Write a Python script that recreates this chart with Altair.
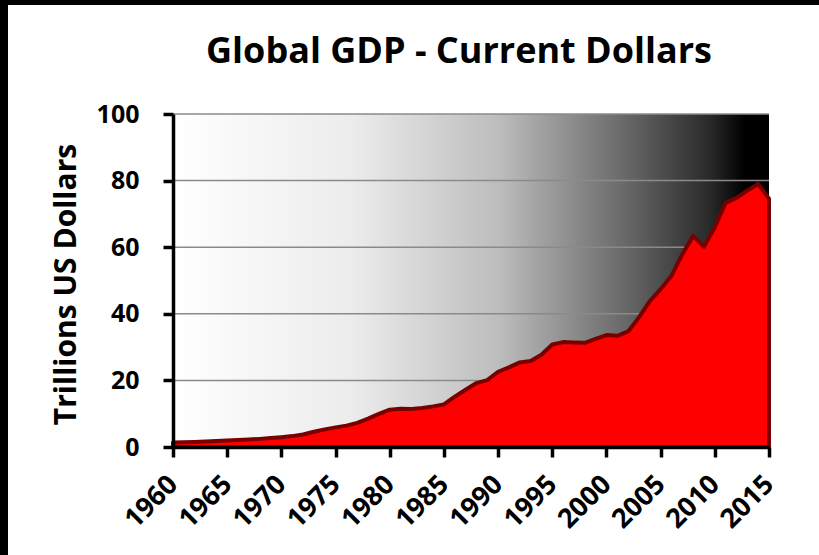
import altair as alt
import pandas as pd

years = list(range(1960, 2016))
gdp = [1.37, 1.42, 1.52, 1.64, 1.80, 1.96, 2.13, 2.26, 2.44, 2.69,
       2.96, 3.27, 3.77, 4.59, 5.30, 5.90, 6.42, 7.26, 8.54, 9.93,
       11.2, 11.5, 11.4, 11.7, 12.2, 12.8, 15.1, 17.2, 19.2, 20.1,
       22.6, 23.9, 25.4, 25.8, 27.7, 30.8, 31.5, 31.4, 31.3, 32.5,
       33.6, 33.4, 34.7, 38.9, 43.8, 47.4, 51.4, 57.9, 63.4, 60.1,
       66.0, 73.3, 74.8, 77.0, 79.0, 74.6]
grid_values = [20, 40, 60, 80, 100]
x_ticks = list(range(1960, 2016, 5))
y_ticks = [0, 20, 40, 60, 80, 100]
title_text = "Global GDP - Current Dollars"
y_title = "Trillions US Dollars"

W, H = 596, 333
FONT = "Open Sans"

df = pd.DataFrame({"year": years, "gdp": gdp})
grid_df = pd.DataFrame({"v": grid_values})
one = pd.DataFrame({"a": [0]})

xscale = alt.Scale(domain=[1960, 2015], nice=False, zero=False)
yscale = alt.Scale(domain=[0, 100], nice=False)

yaxis = alt.Axis(values=y_ticks, title=y_title,
                 titleFont=FONT, titleFontSize=30, titleFontWeight="bold",
                 titleColor="black", titleAngle=-90, titleX=-107, titleY=170,
                 titleAlign="center", titleBaseline="middle",
                 labelPadding=24, labelFontSize=25, labelFont=FONT,
                 labelFontWeight="bold", labelColor="black",
                 domainColor="black", domainWidth=3.5,
                 tickColor="black", tickWidth=3.5, tickSize=10,
                 grid=False, zindex=1)

gradient = alt.Chart(one).mark_rect(
    color=alt.Gradient(
        gradient="linear", x1=0, x2=1, y1=0, y2=0,
        stops=[
            alt.GradientStop(color="#ffffff", offset=0),
            alt.GradientStop(color="#ececec", offset=0.3),
            alt.GradientStop(color="#bcbcbc", offset=0.55),
            alt.GradientStop(color="#6c6c6c", offset=0.75),
            alt.GradientStop(color="#2a2a2a", offset=0.9),
            alt.GradientStop(color="#000000", offset=0.96),
            alt.GradientStop(color="#000000", offset=1),
        ],
    )
).encode(x=alt.value(0), x2=alt.value(W), y=alt.value(0), y2=alt.value(H))

grid = alt.Chart(grid_df).mark_rule(color="#8a8a8a", strokeWidth=1.5).encode(
    y=alt.Y("v:Q", scale=yscale, axis=yaxis),
    x=alt.value(0), x2=alt.value(W),
)

area = alt.Chart(df).mark_area(
    color="#ff0000", stroke="#7a0000", strokeWidth=4, strokeJoin="round"
).encode(
    x=alt.X("year:Q", scale=xscale,
            axis=alt.Axis(values=x_ticks, format="d", title=None,
                          labelAngle=-45, labelAlign="right", labelBaseline="middle",
                          labelPadding=23, labelFontSize=27, labelFont=FONT,
                          labelFontWeight="bold", labelColor="black",
                          domainColor="black", domainWidth=3.5,
                          tickColor="black", tickWidth=3.5, tickSize=10,
                          grid=False, zindex=1, labelOverlap=False)),
    y=alt.Y("gdp:Q", scale=yscale, axis=yaxis),
)

title = alt.Chart(one).mark_text(
    text=title_text, font=FONT, fontSize=36, fontWeight="bold", color="black",
    align="center", baseline="alphabetic"
).encode(x=alt.value(286), y=alt.value(-51))

frame_top = alt.Chart(one).mark_rect(color="black").encode(
    x=alt.value(-173), x2=alt.value(646), y=alt.value(-114), y2=alt.value(-109))
frame_left = alt.Chart(one).mark_rect(color="black").encode(
    x=alt.value(-173), x2=alt.value(-165), y=alt.value(-114), y2=alt.value(441))

chart = alt.layer(gradient, grid, area, title, frame_top, frame_left).properties(
    width=W, height=H,
    autosize="none",
    padding={"left": 173, "top": 114, "right": 50, "bottom": 108},
    background="white",
).configure_view(stroke=None)

chart.save("out.html", embed_options={"renderer": "svg", "actions": False})
